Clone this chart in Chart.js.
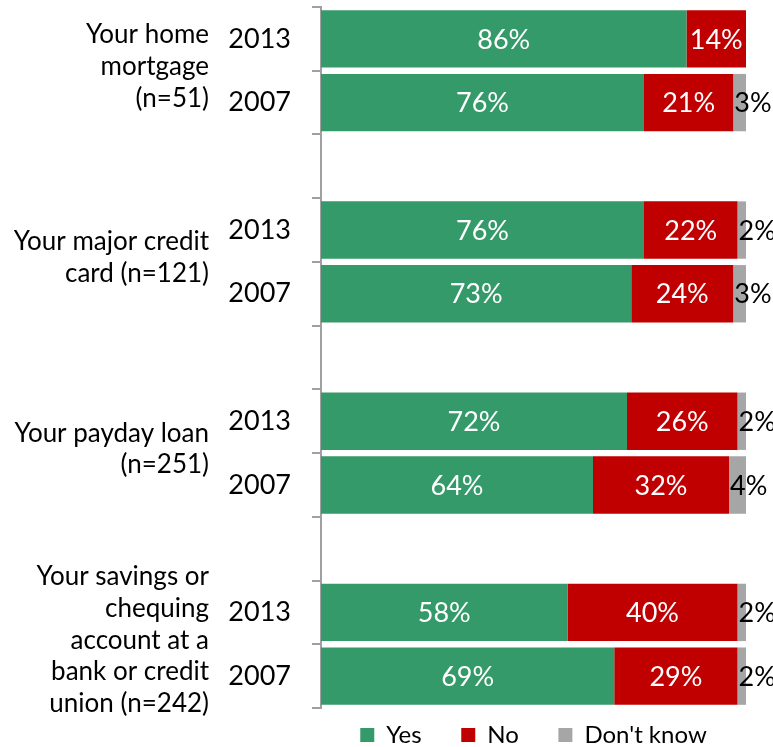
<!DOCTYPE html>
<html>
<head>
<meta charset="utf-8">
<script src="https://cdn.jsdelivr.net/npm/chart.js@4"></script>
<style>
  html, body { margin: 0; padding: 0; background: #fff; }
  #wrap { width: 773px; height: 747px; }
</style>
</head>
<body>
<div id="wrap"><canvas id="chart"></canvas></div>
<script>
// Survey groups, top to bottom; each has a 2013 and a 2007 row
const groupNames = [
  ['Your home', 'mortgage', '(n=51)'],
  ['Your major credit', 'card (n=121)'],
  ['Your payday loan', '(n=251)'],
  ['Your savings or', 'chequing', 'account at a', 'bank or credit', 'union (n=242)']
];
const years = ['2013', '2007'];

// Percentages per row (2013, 2007 for each group)
const yesValues = [86, 76, 76, 73, 72, 64, 58, 69];
const noValues = [14, 21, 22, 24, 26, 32, 40, 29];
const dontKnowValues = [0, 3, 2, 3, 2, 4, 2, 2];

const FONT = 'Lato';
const AXIS_GREY = '#a0a0a0';

// Build the category rows with an empty spacer row between groups
const rowLabels = [];
const rowIndex = [];
groupNames.forEach((g, gi) => {
  if (gi > 0) { rowLabels.push(''); rowIndex.push(null); }
  years.forEach((y, yi) => {
    rowLabels.push(y);
    rowIndex.push(gi * years.length + yi);
  });
});
const spread = (vals) => rowIndex.map(i => (i === null ? null : vals[i]));

// Percent labels inside the bars, and the group names left of the years
const labelPlugin = {
  id: 'labels',
  afterDatasetsDraw(chart) {
    const ctx = chart.ctx;
    ctx.save();
    ctx.textBaseline = 'middle';
    ctx.font = `27px ${FONT}`;
    chart.data.datasets.forEach((ds, di) => {
      const meta = chart.getDatasetMeta(di);
      meta.data.forEach((el, i) => {
        const v = ds.data[i];
        if (!v) return;
        if (di === 2) {
          ctx.fillStyle = '#000';
          ctx.textAlign = 'left';
          ctx.fillText(v + '%', Math.min(el.x, el.base) + 1, el.y + 1);
        } else {
          ctx.fillStyle = '#fff';
          ctx.textAlign = 'center';
          ctx.fillText(v + '%', (el.x + el.base) / 2, el.y + 1);
        }
      });
    });
    ctx.restore();
  },
  afterDraw(chart) {
    const ctx = chart.ctx;
    const yScale = chart.scales.y;
    const lineH = 31.8;
    ctx.save();
    ctx.font = `26px ${FONT}`;
    ctx.fillStyle = '#000';
    ctx.textAlign = 'right';
    ctx.textBaseline = 'middle';
    groupNames.forEach((lines, gi) => {
      const first = gi * 3;
      const mid = (yScale.getPixelForValue(first) + yScale.getPixelForValue(first + 1)) / 2;
      const top = mid - (lines.length - 1) * lineH / 2;
      lines.forEach((t, li) => ctx.fillText(t, 209, top + li * lineH - 4));
    });
    ctx.restore();
  }
};

new Chart(document.getElementById('chart'), {
  type: 'bar',
  data: {
    labels: rowLabels,
    datasets: [
      { label: 'Yes', data: spread(yesValues), backgroundColor: '#359a69' },
      { label: 'No', data: spread(noValues), backgroundColor: '#c00000' },
      { label: "Don't know", data: spread(dontKnowValues), backgroundColor: '#a6a6a6' }
    ]
  },
  options: {
    indexAxis: 'y',
    responsive: true,
    maintainAspectRatio: false,
    animation: false,
    layout: { padding: { top: 7, right: 27, left: 0, bottom: -10 } },
    datasets: {
      bar: { barPercentage: 0.9, categoryPercentage: 1.0, borderWidth: 0 }
    },
    plugins: {
      legend: {
        position: 'bottom',
        fullSize: false,
        labels: {
          boxWidth: 14,
          boxHeight: 14,
          padding: 15,
          color: '#000',
          font: { family: FONT, size: 24 },
          // extra trailing space widens the gap between legend entries
          generateLabels(chart) {
            const items = Chart.defaults.plugins.legend.labels.generateLabels(chart);
            items.forEach((it, i) => { if (i < items.length - 1) it.text += '    '; });
            return items;
          }
        }
      },
      tooltip: { enabled: false }
    },
    scales: {
      x: {
        stacked: true,
        min: 0,
        max: 100,
        display: false
      },
      y: {
        stacked: true,
        offset: true,
        afterFit(scale) {
          scale.width = 321;
          scale.paddingTop = 0;
          scale.paddingBottom = 0;
        },
        grid: {
          offset: true,
          drawOnChartArea: false,
          drawTicks: true,
          tickLength: 9,
          color: AXIS_GREY,
          lineWidth: 2
        },
        border: { display: true, color: AXIS_GREY, width: 2 },
        ticks: {
          color: '#000',
          padding: 21,
          autoSkip: false,
          font: { family: FONT, size: 27 }
        }
      }
    }
  },
  plugins: [labelPlugin]
});
</script>
</body>
</html>
